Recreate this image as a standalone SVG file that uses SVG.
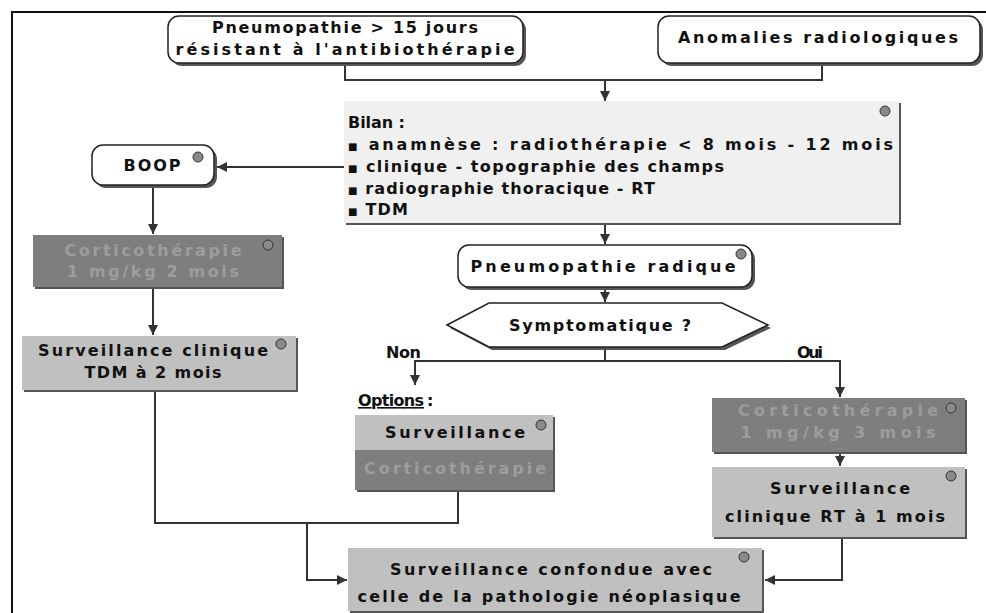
<svg xmlns="http://www.w3.org/2000/svg" width="986" height="613" viewBox="0 0 986 613">
<style>
.t{font-family:"DejaVu Sans","Liberation Sans",Arial,sans-serif;font-weight:bold;font-size:16px;fill:#111}
.m{text-anchor:middle}
.b{font-size:10px}
.dk{fill:#9d9d9d}
.c{fill:none;stroke:#333;stroke-width:2}
.rn{fill:#fff;stroke:#222;stroke-width:1.5}
.sh{fill:#555}
.lg{fill:#c0c0c0}
.dg{fill:#7e7e7e}
.dot{fill:#8a8a8a;stroke:#333;stroke-width:1}
</style>
<defs>
<marker id="a" viewBox="0 0 10 10" refX="10" refY="5" markerWidth="10" markerHeight="10" markerUnits="userSpaceOnUse" orient="auto">
<path d="M0,0 L10,5 L0,10 z" fill="#333"/>
</marker>
</defs>
<rect width="986" height="613" fill="#fff"/>
<path d="M12,613 V12 H986" fill="none" stroke="#111" stroke-width="2"/>

<g id="connectors">
<path class="c" d="M345,63 V80 H822 V63"/>
<path class="c" d="M605,80 V101" marker-end="url(#a)"/>
<path class="c" d="M345,167 H217" marker-end="url(#a)"/>
<path class="c" d="M153,186 V234" marker-end="url(#a)"/>
<path class="c" d="M153,288 V335" marker-end="url(#a)"/>
<path class="c" d="M605,225 V244" marker-end="url(#a)"/>
<path class="c" d="M605,289 V302" marker-end="url(#a)"/>
<path class="c" d="M605,347 V361 H415 V385" marker-end="url(#a)"/>
<path class="c" d="M605,361 H840 V397" marker-end="url(#a)"/>
<path class="c" d="M840,453 V466" marker-end="url(#a)"/>
<path class="c" d="M155,391 V523 H458 V491"/>
<path class="c" d="M307,523 V580 H347" marker-end="url(#a)"/>
<path class="c" d="M842,538 V580 H765" marker-end="url(#a)"/>
</g>

<g id="n1">
<rect class="sh" x="171" y="19" width="355" height="47" rx="11"/>
<rect class="rn" x="168" y="16" width="355" height="47" rx="11"/>
<text class="t m" x="345" y="33" textLength="266" lengthAdjust="spacing">Pneumopathie &gt; 15 jours</text>
<text class="t m" x="345" y="55" textLength="339" lengthAdjust="spacing">résistant à l'antibiothérapie</text>
</g>

<g id="n2">
<rect class="sh" x="661" y="19" width="322" height="47" rx="11"/>
<rect class="rn" x="658" y="16" width="322" height="47" rx="11"/>
<text class="t m" x="818" y="43" textLength="280" lengthAdjust="spacing">Anomalies radiologiques</text>
</g>

<g id="bilan">
<rect x="346" y="103" width="555" height="122" fill="#555"/>
<rect x="344" y="101" width="555" height="122" fill="#f0f0f0"/>
<circle class="dot" cx="885" cy="111" r="5"/>
<text class="t" x="348" y="128" textLength="57" lengthAdjust="spacing">Bilan :</text>
<text class="t" x="348" y="150" textLength="545" lengthAdjust="spacing"><tspan class="b">■</tspan> anamnèse : radiothérapie &lt; 8 mois - 12 mois</text>
<text class="t" x="348" y="172" textLength="376" lengthAdjust="spacing"><tspan class="b">■</tspan> clinique - topographie des champs</text>
<text class="t" x="348" y="194" textLength="307" lengthAdjust="spacing"><tspan class="b">■</tspan> radiographie thoracique - RT</text>
<text class="t" x="348" y="215" textLength="60" lengthAdjust="spacing"><tspan class="b">■</tspan> TDM</text>
</g>

<g id="boop">
<rect class="sh" x="95" y="148" width="122" height="40" rx="11"/>
<rect class="rn" x="92" y="145" width="122" height="40" rx="11"/>
<circle class="dot" cx="198" cy="157" r="5"/>
<text class="t m" x="152" y="171" textLength="57" lengthAdjust="spacing">BOOP</text>
</g>

<g id="cortico1">
<rect class="sh" x="35" y="237" width="249" height="52"/>
<rect class="dg" x="33" y="235" width="249" height="52"/>
<circle class="dot" cx="268" cy="245" r="5"/>
<text class="t m dk" x="153" y="256" textLength="177" lengthAdjust="spacing">Corticothérapie</text>
<text class="t m dk" x="153" y="277" textLength="172" lengthAdjust="spacing">1 mg/kg 2 mois</text>
</g>

<g id="surv1">
<rect class="sh" x="24" y="338" width="274" height="54"/>
<rect class="lg" x="22" y="336" width="274" height="54"/>
<circle class="dot" cx="281" cy="344" r="5"/>
<text class="t m" x="153" y="356" textLength="230" lengthAdjust="spacing">Surveillance clinique</text>
<text class="t m" x="153" y="378" textLength="137" lengthAdjust="spacing">TDM à 2 mois</text>
</g>

<g id="radique">
<rect class="sh" x="461" y="248" width="294" height="42" rx="11"/>
<rect class="rn" x="458" y="245" width="294" height="42" rx="11"/>
<circle class="dot" cx="741" cy="254" r="5"/>
<text class="t m" x="603" y="272" textLength="265" lengthAdjust="spacing">Pneumopathie radique</text>
</g>

<g id="sympt">
<polygon points="450,328 492,306 725,306 771,328 725,350 492,350" fill="#555"/>
<polygon class="rn" points="447,325 489,303 722,303 768,325 722,347 489,347"/>
<text class="t m" x="600" y="331" textLength="182" lengthAdjust="spacing">Symptomatique ?</text>
</g>

<text class="t" x="386" y="358" textLength="35" lengthAdjust="spacing">Non</text>
<text class="t" x="797" y="358" textLength="26" lengthAdjust="spacing">Oui</text>

<g id="options">
<text class="t" x="358" y="406" textLength="66" lengthAdjust="spacing" text-decoration="underline">Options</text>
<text class="t" x="427" y="406">:</text>
<rect class="sh" x="357" y="417" width="198" height="75"/>
<rect class="lg" x="355" y="415" width="198" height="35"/>
<rect class="dg" x="355" y="450" width="198" height="40"/>
<circle class="dot" cx="541" cy="425" r="5"/>
<text class="t m" x="455" y="438" textLength="140" lengthAdjust="spacing">Surveillance</text>
<text class="t m dk" x="455" y="474" textLength="182" lengthAdjust="spacing">Corticothérapie</text>
</g>

<g id="cortico2">
<rect class="sh" x="714" y="400" width="253" height="54"/>
<rect class="dg" x="712" y="398" width="253" height="54"/>
<circle class="dot" cx="951" cy="408" r="5"/>
<text class="t m dk" x="838" y="416" textLength="200" lengthAdjust="spacing">Corticothérapie</text>
<text class="t m dk" x="838" y="438" textLength="195" lengthAdjust="spacing">1 mg/kg 3 mois</text>
</g>

<g id="surv2">
<rect class="sh" x="714" y="469" width="253" height="70"/>
<rect class="lg" x="712" y="467" width="253" height="70"/>
<circle class="dot" cx="951" cy="476" r="5"/>
<text class="t m" x="840" y="494" textLength="140" lengthAdjust="spacing">Surveillance</text>
<text class="t m" x="835" y="522" textLength="220" lengthAdjust="spacing">clinique RT à 1 mois</text>
</g>

<g id="final">
<rect class="sh" x="350" y="550" width="414" height="63"/>
<rect class="lg" x="348" y="548" width="414" height="63"/>
<circle class="dot" cx="744" cy="557" r="5"/>
<text class="t m" x="551" y="575" textLength="322" lengthAdjust="spacing">Surveillance confondue avec</text>
<text class="t m" x="549" y="602" textLength="383" lengthAdjust="spacing">celle de la pathologie néoplasique</text>
</g>
</svg>
